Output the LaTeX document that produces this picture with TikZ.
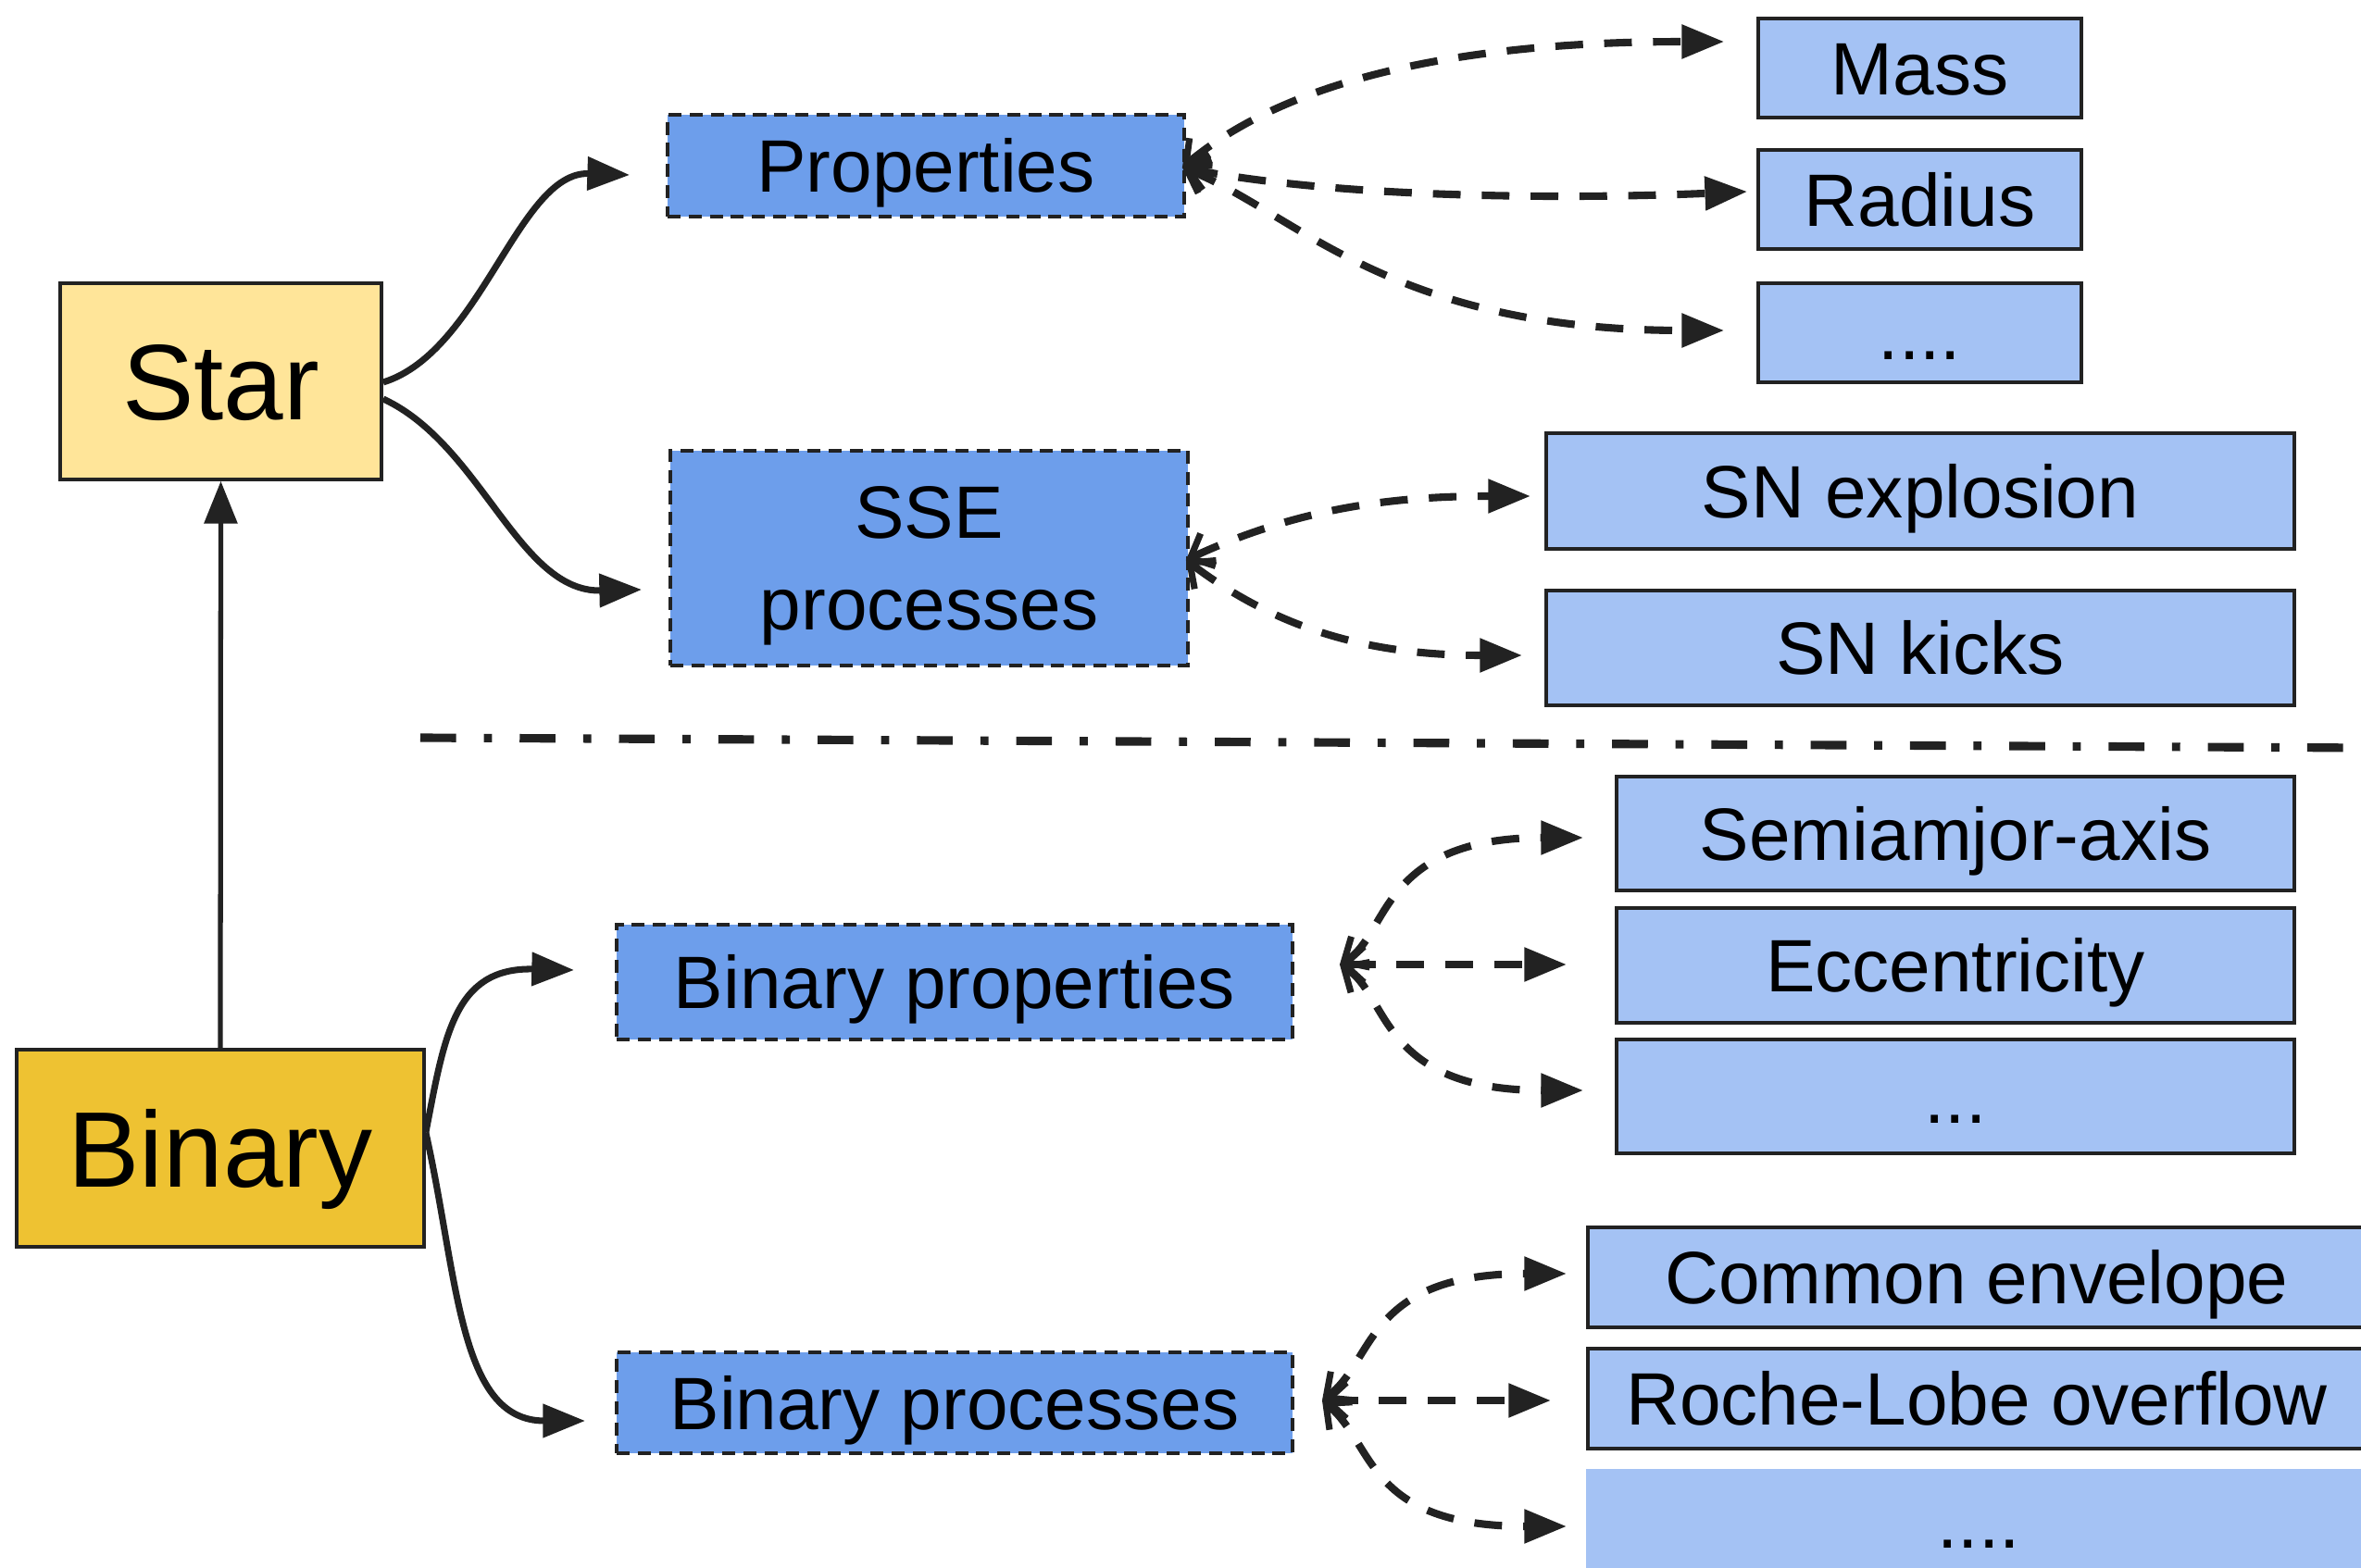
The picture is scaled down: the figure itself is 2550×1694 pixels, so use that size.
\documentclass[tikz,border=0pt]{standalone}
\usepackage{fontspec}
\setmainfont{Liberation Sans}
\usetikzlibrary{arrows.meta,calc}
\definecolor{staryel}{HTML}{FFE599}
\definecolor{binyel}{HTML}{EEC232}
\definecolor{grpblue}{HTML}{6D9EEB}
\definecolor{leafblue}{HTML}{A4C2F4}
\definecolor{ink}{HTML}{222222}
\tikzset{
  base/.style={draw=ink, line width=1pt, inner sep=0pt, align=center,
    font=\fontsize{22.8}{28}\selectfont, text height=16.3pt, text depth=0pt},
  bigbox/.style={base, font=\fontsize{33}{38}\selectfont, text height=23.6pt},
  grp/.style={base, fill=grpblue, dash pattern=on 4pt off 2.5pt},
  leaf/.style={base, fill=leafblue},
  solidarr/.style={line width=2pt, draw=ink, -{Triangle[length=13pt,width=10pt]}},
  dasharr/.style={line width=2.3pt, draw=ink, dash pattern=on 8.5pt off 6.5pt,
    {Straight Barb[length=6pt,width=11pt,line width=2pt]}-{Triangle[length=13pt,width=10pt]}},
}
\begin{document}
\begin{tikzpicture}[x=0.01cm,y=-0.01cm]
\useasboundingbox (0,0) rectangle (2550,1694);
\clip (0,0) rectangle (2550,1694);
\fill[white] (0,0) rectangle (2550,1694);

% main boxes
\node[bigbox, fill=staryel, minimum width=3.47cm, minimum height=2.12cm] (star) at (238.5,412) {Star};
\node[bigbox, fill=binyel, minimum width=4.40cm, minimum height=2.13cm] (binary) at (238,1240.5) {Binary};

% group boxes
\node[grp, minimum width=5.58cm, minimum height=1.10cm] (props) at (1000,179) {Properties};
\node[grp, minimum width=5.59cm, minimum height=2.32cm, text height=, text depth=0pt] (sse) at (1003.5,603) {SSE\\processes};
\node[grp, minimum width=7.30cm, minimum height=1.24cm] (bprops) at (1031,1061) {Binary properties};
\node[grp, minimum width=7.30cm, minimum height=1.09cm] (bprocs) at (1031,1515.5) {Binary processes};

% leaf boxes
\node[leaf, minimum width=3.49cm, minimum height=1.07cm] (mass) at (2073.5,73.5) {Mass};
\node[leaf, minimum width=3.49cm, minimum height=1.07cm] (radius) at (2073.5,215.5) {Radius};
\node[leaf, minimum width=3.49cm, minimum height=1.07cm] (dotsa) at (2073.5,359.5) {....};
\node[leaf, minimum width=8.08cm, minimum height=1.25cm] (snexp) at (2074,530.5) {SN explosion};
\node[leaf, minimum width=8.08cm, minimum height=1.24cm] (snkick) at (2074,700) {SN kicks};
\node[leaf, minimum width=7.32cm, minimum height=1.23cm] (semi) at (2112,900.5) {Semiamjor-axis};
\node[leaf, minimum width=7.32cm, minimum height=1.24cm] (ecc) at (2112,1043) {Eccentricity};
\node[leaf, minimum width=7.32cm, minimum height=1.23cm] (dotsb) at (2112,1184.5) {...};
\node[leaf, minimum width=8.40cm, minimum height=1.08cm] (ce) at (2135,1380) {Common envelope};
\node[leaf, minimum width=8.40cm, minimum height=1.08cm] (rl) at (2135,1511) {Roche-Lobe overflow};
\node[leaf, draw=none, minimum width=8.48cm, minimum height=1.07cm, text height=18pt] (dotsc) at (2137,1640.5) {....};

% separator
\coordinate (sepL) at (454,797);
\coordinate (sepR) at (2560,808);
\draw[line width=2.6pt, draw=ink, dash pattern=on 11pt off 8.5pt on 2.5pt off 8.5pt] (sepL) -- (sepR);

% solid connectors
\draw[solidarr, line width=1.5pt] (binary.north) -- (star.south);
\draw[solidarr] ($(star.east)+(0,1)$) .. controls (520,380) and (560,185) .. ($(props.west)+(-39,10)$);
\draw[solidarr] ($(star.east)+(0,19)$) .. controls (520,480) and (560,640) .. ($(sse.west)+(-29,34)$);
\draw[solidarr] ($(binary.east)+(0,-17)$) .. controls (480,1120) and (490,1045) .. ($(bprops.west)+(-44,-13)$);
\draw[solidarr] ($(binary.east)+(0,-17)$) .. controls (495,1380) and (495,1535) .. ($(bprocs.west)+(-32,19.5)$);

% dashed connectors
\draw[dasharr] ($(props.east)+(-4,2)$) .. controls (1380,95) and (1550,45) .. ($(mass.west)+(-35,-28.5)$);
\draw[dasharr] ($(props.east)+(-4,2)$) .. controls (1450,215) and (1700,215) .. ($(radius.west)+(-10,-8.5)$);
\draw[dasharr] ($(props.east)+(-4,2)$) .. controls (1400,230) and (1500,357) .. ($(dotsa.west)+(-35,-2.5)$);
\draw[dasharr] ($(sse.east)+(-4,2)$) .. controls (1400,550) and (1500,536) .. ($(snexp.west)+(-15,5.5)$);
\draw[dasharr] ($(sse.east)+(-4,2)$) .. controls (1380,680) and (1480,708) .. ($(snkick.west)+(-24,8)$);
\draw[dasharr] ($(bprops.east)+(49,-19)$) .. controls (1500,1010) and (1490,905) .. ($(semi.west)+(-34,4.5)$);
\draw[dasharr] ($(bprops.east)+(49,-19)$) -- ($(ecc.west)+(-52,-1)$);
\draw[dasharr] ($(bprops.east)+(49,-19)$) .. controls (1500,1075) and (1490,1178) .. ($(dotsb.west)+(-34,-6.5)$);
\draw[dasharr] ($(bprocs.east)+(30,-2.5)$) .. controls (1485,1470) and (1475,1376) .. ($(ce.west)+(-21,-4)$);
\draw[dasharr] ($(bprocs.east)+(30,-2.5)$) -- ($(rl.west)+(-38,2)$);
\draw[dasharr] ($(bprocs.east)+(30,-2.5)$) .. controls (1485,1560) and (1475,1649) .. ($(dotsc.west)+(-19,8.5)$);
\end{tikzpicture}
\end{document}
